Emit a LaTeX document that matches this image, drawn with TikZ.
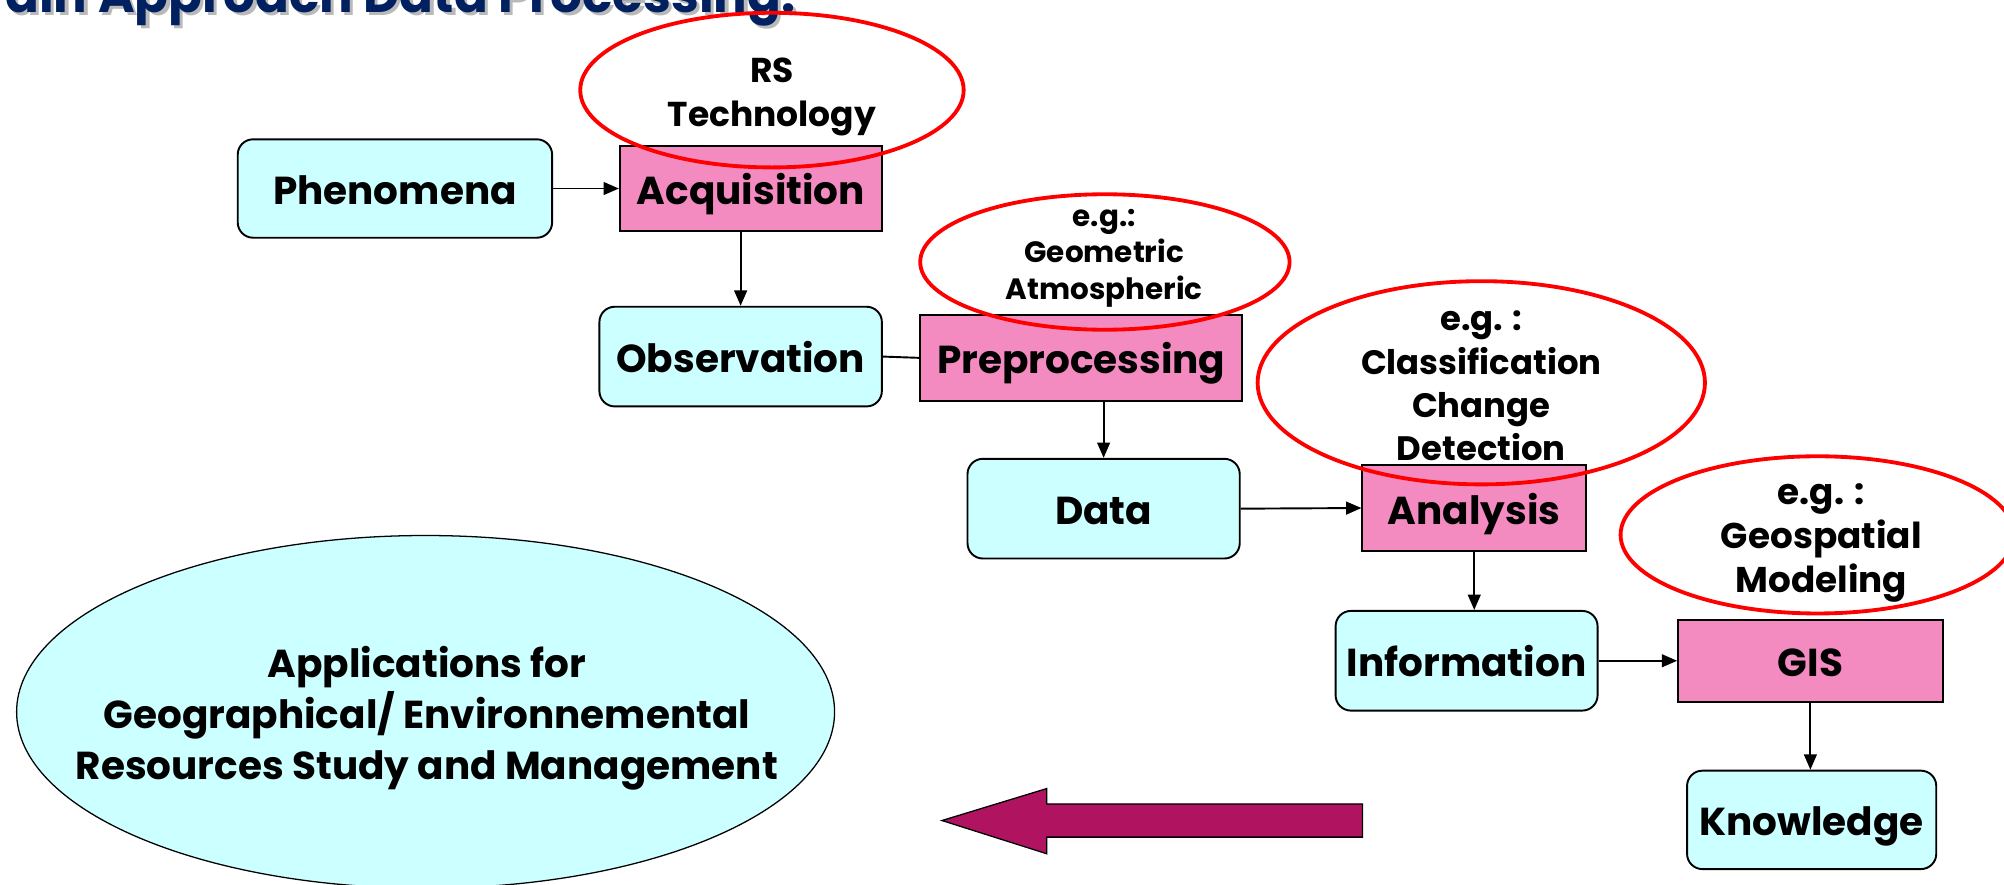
\documentclass[tikz,border=0pt]{standalone}
\usepackage{fontspec}
\setmainfont{Poppins}
\usetikzlibrary{arrows.meta,shapes.geometric}
\definecolor{cyanfill}{RGB}{204,255,255}
\definecolor{pinkfill}{RGB}{243,139,193}
\definecolor{ellred}{RGB}{255,0,0}
\definecolor{navy}{RGB}{0,32,96}
\definecolor{maroon}{RGB}{176,20,96}
\tikzset{
  boxfont/.style={font=\bfseries\fontsize{30.5}{36}\selectfont, text height=25pt, text depth=0pt},
  cyanbox/.style={draw=black, line width=1.5pt, fill=cyanfill, rounded corners=12pt, inner sep=0pt, boxfont},
  pinkbox/.style={draw=black, line width=1.5pt, fill=pinkfill, inner sep=0pt, boxfont},
  redell/.style={ellipse, draw=ellred, line width=3pt, inner sep=0pt},
  notetext/.style={align=center, inner sep=0pt},
  conn/.style={line width=1.5pt, -{Triangle[length=12pt,width=10pt]}},
  plainconn/.style={line width=1.5pt}
}
\begin{document}
\begin{tikzpicture}[x=1pt,y=-1pt]
\useasboundingbox (0,0) rectangle (1568,692);
\clip (0,0) rectangle (1568,692);

% title (cut off at top)
\node[anchor=base west, inner sep=0pt, text=gray!55, font=\bfseries\fontsize{39}{44}\selectfont] (titleshadow) at (6.5,12.5) {ain Approach Data Processing:};
\node[anchor=base west, inner sep=0pt, text=navy, font=\bfseries\fontsize{39}{44}\selectfont] (title) at (4,10) {ain Approach Data Processing:};

% boxes
\node[cyanbox, minimum width=246pt, minimum height=77pt] (phen) at (309,147.5) {Phenomena};
\node[pinkbox, minimum width=205pt, minimum height=67pt] (acq) at (587.5,147.5) {Acquisition};
\node[cyanbox, minimum width=221pt, minimum height=78pt] (obs) at (579.5,279) {Observation};
\node[pinkbox, minimum width=252pt, minimum height=67pt] (pre) at (846,280) {Preprocessing};
\node[cyanbox, minimum width=213pt, minimum height=78pt] (data) at (863.5,398) {Data};
\node[pinkbox, minimum width=175pt, minimum height=67pt] (ana) at (1153.5,397.5) {Analysis};
\node[cyanbox, minimum width=205pt, minimum height=78pt] (info) at (1147.5,517) {Information};
\node[pinkbox, minimum width=207pt, minimum height=64pt] (gis) at (1416.5,517) {GIS};
\node[cyanbox, minimum width=195pt, minimum height=77pt] (know) at (1417.5,641.5) {Knowledge};

% connectors
\draw[conn] (phen.east) -- (acq.west);
\draw[conn] (acq.south -| obs.north) -- (obs.north);
\draw[plainconn] (obs.east) -- (pre.west);
\draw[conn] (pre.south -| data.north) -- (data.north);
\draw[conn] (data.east) -- (ana.west);
\draw[conn] (ana.south) -- (ana.south |- info.north);
\draw[conn] (info.east) -- (gis.west);
\draw[conn] (gis.south) -- (gis.south |- know.north);

% applications ellipse
\node[ellipse, draw=black, line width=1pt, fill=cyanfill, minimum width=640pt, minimum height=276pt, inner sep=0pt] (app) at (333,557) {};
\node[align=center, inner sep=0pt, font=\bfseries\fontsize{30.5}{40}\selectfont] (apptext) at (334,562) {Applications for\\Geographical/ Environnemental\\Resources Study and Management};

% big arrow
\draw[line width=1pt, fill=maroon] (737,642) -- (819,617) -- (819,629) -- (1066,629) -- (1066,655) -- (819,655) -- (819,668) -- cycle;

% red ellipses
\node[redell, minimum width=300pt, minimum height=121pt] (rs) at (604,70.5) {};
\node[notetext, font=\bfseries\fontsize{27}{34}\selectfont] (rstext) at (604,76) {RS\\Technology};

\node[redell, minimum width=289pt, minimum height=106pt] (geo) at (864.5,205) {};
\node[notetext, font=\bfseries\fontsize{23}{28.5}\selectfont] (geotext) at (864,202) {e.g.:\\Geometric\\Atmospheric};

\node[redell, minimum width=350pt, minimum height=159pt] (cls) at (1159,299.5) {};
\node[notetext, font=\bfseries\fontsize{26.5}{34}\selectfont] (clstext) at (1159,302) {e.g. :\\Classification\\Change\\Detection};

\node[redell, minimum width=308pt, minimum height=123pt] (gsp) at (1422,418.5) {};
\node[notetext, font=\bfseries\fontsize{28}{34.5}\selectfont] (gsptext) at (1425,425) {e.g. :\\Geospatial\\Modeling};

\end{tikzpicture}
\end{document}
